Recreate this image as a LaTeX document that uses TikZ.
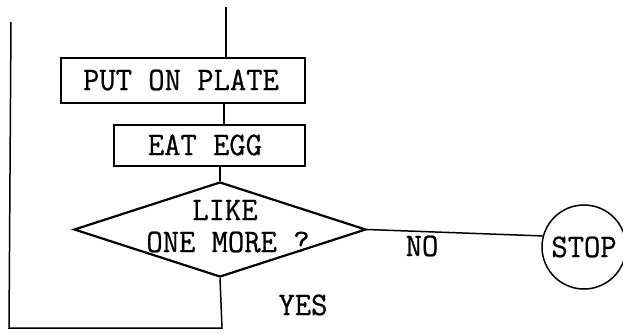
\documentclass[tikz,border=0pt]{standalone}
\usepackage{fontspec}
\newfontfamily\tyfont[FakeBold=0.7, FakeStretch=0.96]{Latin Modern Mono}
\usetikzlibrary{shapes.geometric}
\begin{document}
\begin{tikzpicture}[x=1pt,y=-1pt,
  every path/.style={line width=1.5pt},
  txt/.style={font=\tyfont\fontsize{33}{36}\selectfont, inner sep=0pt},
  procbox/.style={draw, line width=1.5pt, rectangle, inner sep=0pt},
  decbox/.style={draw, line width=2.2pt, diamond, inner sep=0pt},
  termbox/.style={draw, line width=1.5pt, circle, inner sep=0pt, minimum size=84pt}]
\useasboundingbox (0,0) rectangle (623,333);
% nodes
\node[procbox, minimum width=244pt, minimum height=45pt] (put) at (183,80.5) {};
\node[txt] (putt) at (181,80) {PUT ON PLATE};
\node[procbox, minimum width=191pt, minimum height=41pt] (eat) at (209.5,145.5) {};
\node[txt] (eatt) at (205,145) {EAT EGG};
\node[decbox, minimum width=292pt, minimum height=95pt] (dec) at (220,229.5) {};
\node[txt] (q1) at (225,210) {LIKE};
\node[txt] (q2) at (228,242) {ONE MORE ?};
\node[termbox] (stop) at (584,247) {};
\node[txt] (stopt) at (584,247) {STOP};
\node[txt] (no) at (422,246) {NO};
\node[txt] (yes) at (303,305) {YES};
% coordinates
\coordinate (top) at (226,7);
\coordinate (br) at (222,328);
\coordinate (bl) at (9,328);
\coordinate (tl) at (11,22);
% connectors
\draw (top) -- (top |- put.north);
\draw (put.south -| 224,0) -- (eat.north -| 224,0);
\draw (eat.south -| dec.north) -- (dec.north);
\draw (dec.east) -- (stop.165);
\draw (dec.south) -- (br) -- (bl) -- (tl);
\end{tikzpicture}
\end{document}
